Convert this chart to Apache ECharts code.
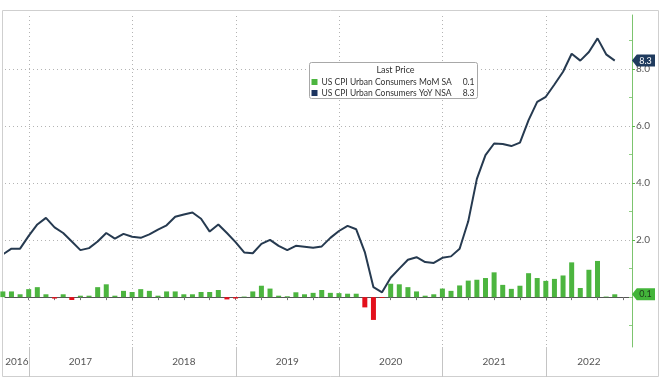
<!DOCTYPE html>
<html><head><meta charset="utf-8">
<script src="https://cdn.jsdelivr.net/npm/echarts@6/dist/echarts.min.js"></script>
<style>html,body{margin:0;padding:0;background:#fff}#c{width:672px;height:382px}</style>
</head><body><div id="c"></div>
<script>
// ---- data ----
const months = [
 '2016-09','2016-10','2016-11','2016-12',
 '2017-01','2017-02','2017-03','2017-04','2017-05','2017-06','2017-07','2017-08','2017-09','2017-10','2017-11','2017-12',
 '2018-01','2018-02','2018-03','2018-04','2018-05','2018-06','2018-07','2018-08','2018-09','2018-10','2018-11','2018-12',
 '2019-01','2019-02','2019-03','2019-04','2019-05','2019-06','2019-07','2019-08','2019-09','2019-10','2019-11','2019-12',
 '2020-01','2020-02','2020-03','2020-04','2020-05','2020-06','2020-07','2020-08','2020-09','2020-10','2020-11','2020-12',
 '2021-01','2021-02','2021-03','2021-04','2021-05','2021-06','2021-07','2021-08','2021-09','2021-10','2021-11','2021-12',
 '2022-01','2022-02','2022-03','2022-04','2022-05','2022-06','2022-07','2022-08'
];
const momSA = [
 0.2, 0.2, 0.1, 0.28,
 0.35, 0.1, -0.05, 0.1, -0.1, 0.05, 0.05, 0.35, 0.45, 0.05, 0.22, 0.18,
 0.28, 0.22, 0.05, 0.2, 0.2, 0.1, 0.1, 0.18, 0.18, 0.25, -0.08, -0.05,
 0.02, 0.2, 0.4, 0.3, 0.05, 0.03, 0.17, 0.1, 0.15, 0.25, 0.15, 0.14,
 0.12, 0.12, -0.36, -0.8, -0.03, 0.47, 0.45, 0.35, 0.2, 0.05, 0.1, 0.3,
 0.22, 0.41, 0.58, 0.61, 0.67, 0.87, 0.43, 0.29, 0.4, 0.84, 0.67, 0.57,
 0.64, 0.76, 1.22, 0.32, 0.96, 1.27, 0.02, 0.1
];
const yoyNSA = [
 1.5, 1.7, 1.7, 2.15,
 2.55, 2.78, 2.45, 2.25, 1.95, 1.65, 1.72, 1.95, 2.25, 2.05, 2.22, 2.12,
 2.08, 2.2, 2.37, 2.52, 2.82, 2.9, 2.97, 2.75, 2.3, 2.55, 2.25, 1.93,
 1.57, 1.54, 1.87, 2.01, 1.8, 1.65, 1.8, 1.77, 1.73, 1.78, 2.08, 2.32,
 2.5, 2.38, 1.58, 0.35, 0.17, 0.68, 1.0, 1.31, 1.4, 1.23, 1.2, 1.38,
 1.43, 1.7, 2.66, 4.15, 4.98, 5.39, 5.37, 5.3, 5.42, 6.21, 6.85, 7.03,
 7.46, 7.91, 8.54, 8.3, 8.6, 9.08, 8.52, 8.3
];
const years = ['2016','2017','2018','2019','2020','2021','2022'];
const yLabelValues = [2, 4, 6, 8];
const yMinorValues = [-1, 0, 1, 3, 5, 7, 9];
const nameMoM = 'US CPI Urban Consumers MoM SA';
const nameYoY = 'US CPI Urban Consumers YoY NSA';
const lastPriceTitle = 'Last Price';

// ---- layout / style ----
const X_MIN = 9.25, X_MAX = 82, Y_MIN = -1.75, Y_MAX = 9.9;
const BASE_YEAR = +years[0];
const GREEN = '#4cb53f', RED = '#e3101c', NAVY = '#263a50', LEG_NAVY = '#1d3560';
const FONT = 'Lato';
const LEG = { x: 309.5, y: 62.5, w: 168, h: 36, row: 11 };

function monthPos(s) { const [y, m] = s.split('-').map(Number); return (y - BASE_YEAR) * 12 + m; }
const barData = months.map((s, i) => [monthPos(s), momSA[i]]);
const lineData = months.map((s, i) => [monthPos(s), yoyNSA[i]]);
const yearBounds = years.slice(1).map(y => (+y - BASE_YEAR) * 12);
const quarterTicks = [];
for (let q = yearBounds[0]; q < X_MAX; q += 3) quarterTicks.push(q);
const yearCenters = years.map(y => {
  const a = Math.max(X_MIN, (+y - BASE_YEAR) * 12), b = Math.min(X_MAX, (+y - BASE_YEAR + 1) * 12);
  return (a + b) / 2;
});
const lastMoM = momSA[momSA.length - 1], lastYoY = yoyNSA[yoyNSA.length - 1];
const tagPath = 'path://M0,6 L5,0 L24,0 L24,12 L5,12 Z';
const px = v => Math.round(v) + 0.5;
const GRID_STYLE = { stroke: '#b4b4b4', lineWidth: 1, lineDash: [1, 3] };

const chart = echarts.init(document.getElementById('c'), null, { renderer: 'canvas' });
chart.setOption({
  animation: false,
  backgroundColor: '#fff',
  textStyle: { fontFamily: FONT },
  grid: { left: 5, right: 40, top: 15, bottom: 35, outerBoundsMode: 'none', containLabel: false },
  graphic: [
    { type: 'rect', z: -10, silent: true, shape: { x: 2.5, y: 10.5, width: 656, height: 366 }, style: { fill: 'none', stroke: '#cfcfcf', lineWidth: 1 } },
    { type: 'rect', z: 50, silent: true, shape: { x: LEG.x, y: LEG.y, width: LEG.w, height: LEG.h, r: 2 }, style: { fill: '#fff', stroke: '#a8a8a8', lineWidth: 1 } },
    { type: 'text', z: 60, silent: true, x: LEG.x + 86, y: LEG.y + 3, style: { text: lastPriceTitle, textAlign: 'center', fill: '#333', font: '9px ' + FONT } },
    { type: 'text', z: 60, silent: true, x: LEG.x + LEG.w - 3, y: LEG.y + 14 + LEG.row / 2, style: { text: lastMoM.toFixed(1), textAlign: 'right', textVerticalAlign: 'middle', fill: '#333', font: '8.5px ' + FONT } },
    { type: 'text', z: 60, silent: true, x: LEG.x + LEG.w - 3, y: LEG.y + 14 + LEG.row * 1.5, style: { text: lastYoY.toFixed(1), textAlign: 'right', textVerticalAlign: 'middle', fill: '#333', font: '8.5px ' + FONT } }
  ],
  legend: {
    z: 55, orient: 'vertical', left: LEG.x + 2, top: LEG.y + 14,
    padding: 0, itemGap: 0, itemWidth: 6, itemHeight: 6,
    data: [
      { name: nameMoM, icon: 'rect', itemStyle: { color: GREEN } },
      { name: nameYoY, icon: 'rect', itemStyle: { color: LEG_NAVY } }
    ],
    textStyle: { fontSize: 8.5, lineHeight: LEG.row, color: '#333', fontFamily: FONT, padding: [0, 0, 0, -1] }
  },
  xAxis: [
    {
      type: 'value', min: X_MIN, max: X_MAX, position: 'bottom',
      axisLine: { show: true, lineStyle: { color: '#555', width: 1 } },
      axisTick: { show: true, inside: false, customValues: quarterTicks, length: 3, lineStyle: { color: '#777' } },
      axisLabel: { show: false }, splitLine: { show: false }
    },
    {
      type: 'value', min: X_MIN, max: X_MAX, position: 'bottom', offset: 0,
      axisLine: { show: false }, axisTick: { show: false },
      axisLabel: { show: true, customValues: yearCenters, margin: 10, fontSize: 10, color: '#555', fontFamily: FONT,
        formatter: v => String(BASE_YEAR + Math.floor(v / 12)) },
      splitLine: { show: false }
    }
  ],
  yAxis: [
    {
      type: 'value', min: Y_MIN, max: Y_MAX, position: 'right',
      axisLine: { show: true, lineStyle: { color: '#7cc46e', width: 1 } },
      axisTick: { show: true, inside: false, customValues: yLabelValues, length: 3, lineStyle: { color: '#5cb84a' } },
      axisLabel: { show: true, customValues: yLabelValues, margin: 4, fontSize: 10, color: '#555', fontFamily: FONT,
        formatter: v => v.toFixed(1) },
      splitLine: { show: false }
    },
    {
      type: 'value', min: Y_MIN, max: Y_MAX, position: 'right', offset: 0,
      axisLine: { show: false },
      axisTick: { show: true, inside: true, customValues: yMinorValues, length: 3, lineStyle: { color: '#8fcf82' } },
      axisLabel: { show: false }, splitLine: { show: false }
    }
  ],
  series: [
    {
      // vertical year gridlines (dotted) + separators below the axis
      type: 'custom', silent: true, clip: false, z: 0,
      data: yearBounds.map(v => [v, 0]),
      renderItem: (params, api) => {
        const v = api.value(0);
        const t = api.coord([v, Y_MAX]), b = api.coord([v, Y_MIN]);
        const x = px(t[0]);
        return { type: 'group', children: [
          { type: 'line', shape: { x1: x, y1: t[1] + 1, x2: x, y2: b[1] }, style: GRID_STYLE },
          { type: 'line', shape: { x1: x, y1: b[1], x2: x, y2: b[1] + 30 }, style: { stroke: '#c4c4c4', lineWidth: 1 } }
        ] };
      }
    },
    {
      // horizontal value gridlines (dotted)
      type: 'custom', silent: true, clip: false, z: 0,
      data: yLabelValues.map(v => [X_MIN, v]),
      renderItem: (params, api) => {
        const v = api.value(1);
        const l = api.coord([X_MIN, v]), r = api.coord([X_MAX, v]);
        const y = px(l[1]);
        return { type: 'line', shape: { x1: l[0], y1: y, x2: r[0], y2: y }, style: GRID_STYLE };
      }
    },
    {
      name: nameMoM, type: 'bar', data: barData, barWidth: 5, z: 2,
      itemStyle: { color: p => (p.value[1] < 0 ? RED : GREEN) }
    },
    {
      name: nameYoY, type: 'line', data: lineData, symbol: 'none', z: 3,
      lineStyle: { color: NAVY, width: 2 }, itemStyle: { color: NAVY }
    },
    {
      type: 'line', data: [], silent: true, clip: false, z: 10,
      markPoint: {
        silent: true, symbol: tagPath, symbolSize: [23, 12], symbolOffset: ['50%', 0], symbolKeepAspect: false,
        data: [
          { coord: [X_MAX, lastYoY], value: lastYoY, itemStyle: { color: '#1f3b5e' },
            label: { show: true, position: 'inside', offset: [2, 0], color: '#fff', fontSize: 9, fontFamily: FONT, formatter: lastYoY.toFixed(1) } },
          { coord: [X_MAX, lastMoM], value: lastMoM, itemStyle: { color: '#43b53a' },
            label: { show: true, position: 'inside', offset: [2, 0], color: '#1d3a1a', fontSize: 9, fontFamily: FONT, formatter: lastMoM.toFixed(1) } }
        ]
      }
    }
  ]
});
</script></body></html>
